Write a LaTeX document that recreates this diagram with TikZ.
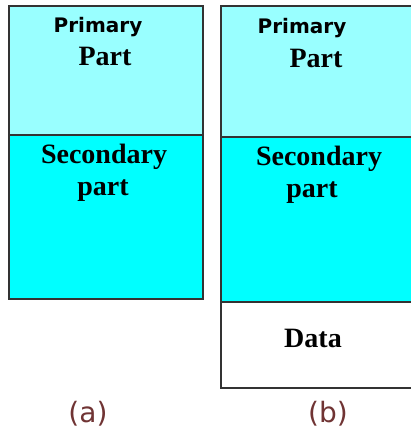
\documentclass[tikz,border=0pt]{standalone}
\usepackage{fontspec}
\setmainfont{Liberation Serif}
\setsansfont{DejaVu Sans}
\usepackage{xcolor}
\usetikzlibrary{positioning}

\definecolor{lightcyan}{HTML}{99FFFF}
\definecolor{fullcyan}{HTML}{00FFFF}
\definecolor{edgegray}{HTML}{333333}
\definecolor{capbrown}{HTML}{703434}

\begin{document}
\begin{tikzpicture}[
    x=1pt, y=-1pt,
    part/.style={rectangle, draw=edgegray, line width=1.8pt, anchor=north west, inner sep=0pt},
    sanslbl/.style={anchor=base, inner sep=0pt, font=\sffamily\bfseries\fontsize{20}{22}\selectfont},
    seriflbl/.style={anchor=base, inner sep=0pt, font=\rmfamily\bfseries\fontsize{28}{30}\selectfont},
    caption/.style={anchor=base, inner sep=0pt, text=capbrown, font=\fontspec{DejaVu Sans}\fontsize{28}{30}\selectfont}
]
\useasboundingbox (0,0) rectangle (411,433);
\clip (0,0) rectangle (411,433);

% (a) two parts
\node[part, fill=lightcyan, minimum width=194pt, minimum height=129pt] (priA) at (8,5) {};
\node[part, fill=fullcyan, minimum width=194pt, minimum height=164pt] (secA) at (8,134) {};

% (b) three parts, cut at the right edge
\node[part, fill=lightcyan, minimum width=194pt, minimum height=131pt] (priB) at (220,5) {};
\node[part, fill=fullcyan, minimum width=194pt, minimum height=165pt] (secB) at (220,136) {};
\node[part, fill=white, minimum width=194pt, minimum height=86pt] (datB) at (220,301) {};

% labels
\node[sanslbl] (priAt) at (98,33) {Primary};
\node[seriflbl] (priAp) at (105,66) {Part};
\node[seriflbl] (secAt) at (104,163) {Secondary};
\node[seriflbl] (secAp) at (103,195) {part};

\node[sanslbl] (priBt) at (302,34) {Primary};
\node[seriflbl] (priBp) at (316,68) {Part};
\node[seriflbl] (secBt) at (319,165) {Secondary};
\node[seriflbl] (secBp) at (312,197) {part};
\node[seriflbl] (datBt) at (313,347) {Data};

\node[caption] (capA) at (88,422) {(a)};
\node[caption] (capB) at (328,422) {(b)};
\end{tikzpicture}
\end{document}
